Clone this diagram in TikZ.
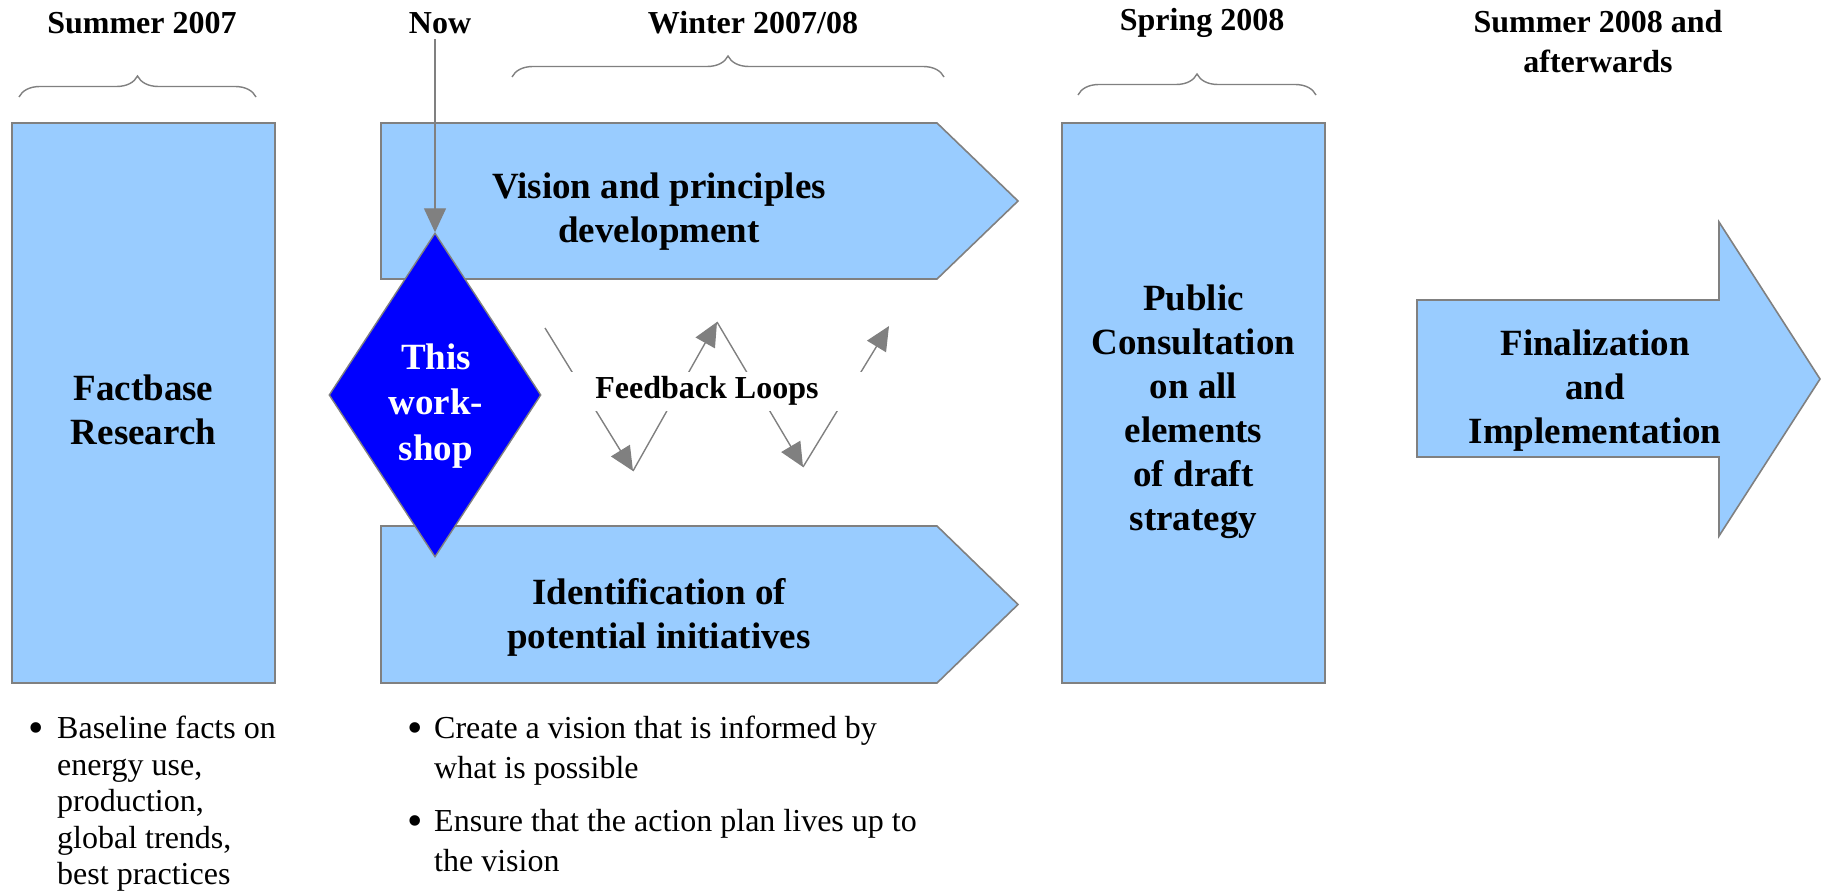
\documentclass[tikz,border=0pt]{standalone}
\usepackage{fontspec}
\setmainfont{Liberation Serif}
\usetikzlibrary{arrows.meta,decorations.pathreplacing,shapes.geometric}
\definecolor{boxblue}{HTML}{99CCFF}
\definecolor{edgegray}{HTML}{808080}
\definecolor{wsblue}{HTML}{0000FF}

\begin{document}
\begin{tikzpicture}[x=1pt,y=-1pt,
  panel/.style={draw=edgegray, fill=boxblue, line width=1.6pt, line join=miter},
  boxtext/.style={font=\fontsize{37}{44}\selectfont\bfseries, align=center, inner sep=0pt},
  period/.style={font=\fontsize{32}{40}\selectfont\bfseries, align=center, inner sep=0pt},
  bracket/.style={draw=edgegray, line width=1.4pt, decorate, decoration={brace, amplitude=21pt}},
  flow/.style={draw=edgegray, line width=1.4pt, -{Triangle[length=24pt,width=22pt]}},
  note/.style={font=\fontsize{32}{37}\selectfont, align=left, inner sep=0pt, anchor=north west},
  dot/.style={font=\fontsize{44}{44}\selectfont, inner sep=0pt}
]
\useasboundingbox (0,0) rectangle (1822,893);

% period headings
\node[period] (hsum7) at (142,23) {Summer 2007};
\node[period] (hnow)  at (440,23) {Now};
\node[period] (hwin)  at (753,23) {Winter 2007/08};
\node[period] (hspr)  at (1202,23) {Spring 2008};
\node[period] (hsum8) at (1598,42) {Summer 2008 and\\afterwards};

% braces under the headings
\draw[bracket] (19,97) -- (256,97);
\draw[bracket] (512,77) -- (944,77);
\draw[bracket] (1078,95) -- (1316,95);

% phase boxes
\node[panel, minimum width=263pt, minimum height=560pt, inner sep=0pt] (fact) at (143.5,403) {};
\node[boxtext] (facttext) at (143.5,410) {Factbase\\Research};

\draw[panel] (381,123) -- (937,123) -- (1018,201) -- (937,279) -- (381,279) -- cycle;
\node[boxtext] (vis) at (659,212) {Vision and principles\\development};

\draw[panel] (381,526) -- (937,526) -- (1018,604.5) -- (937,683) -- (381,683) -- cycle;
\node[boxtext] (ident) at (659,617) {Identification of\\potential initiatives};

\node[panel, minimum width=263pt, minimum height=560pt, inner sep=0pt] (pub) at (1193.5,403) {};
\node[boxtext] (pubtext) at (1193.5,412) {Public\\Consultation\\on all\\elements\\of draft\\strategy};

\draw[panel] (1417,300) -- (1719,300) -- (1719,222) -- (1820,379) -- (1719,536) -- (1719,457) -- (1417,457) -- cycle;
\node[boxtext] (final) at (1595,391) {Finalization\\and\\Implementation};

% the workshop diamond
\node[diamond, draw=edgegray, fill=wsblue, line width=1.4pt, minimum width=212pt, minimum height=324pt, inner sep=0pt] (ws) at (435,395) {};
\node[boxtext, text=white, font=\fontsize{37}{45.5}\selectfont\bfseries] (wstext) at (436,406) {This\\work-\\shop};

% "Now" marker
\draw[flow] (hnow.south -| ws.north) ++(0,5) -- (ws.north);

% feedback zigzag
\coordinate (fb1) at (545,328);
\coordinate (fb2) at (633,471);
\coordinate (fb3) at (717,322);
\coordinate (fb4) at (803,467);
\coordinate (fb5) at (889,326);
\draw[flow] (fb1) -- (fb2);
\draw[flow] (fb2) -- (fb3);
\draw[flow] (fb3) -- (fb4);
\draw[flow] (fb4) -- (fb5);
\node[font=\fontsize{32}{40}\selectfont\bfseries, fill=white, minimum width=320pt, minimum height=39pt, inner sep=0pt] (loops) at (707,391) {Feedback Loops};

% bullet notes
\node[dot] (b1) at (36,733) {•};
\node[note, font=\fontsize{32}{36.5}\selectfont] (n1) at (57,716) {Baseline facts on\\energy use,\\production,\\global trends,\\best practices};
\node[dot] (b2) at (415,733) {•};
\node[note, font=\fontsize{32}{40}\selectfont] (n2) at (434,716) {Create a vision that is informed by\\what is possible};
\node[dot] (b3) at (415,826) {•};
\node[note, font=\fontsize{32}{40}\selectfont] (n3) at (434,809) {Ensure that the action plan lives up to\\the vision};
\end{tikzpicture}
\end{document}
